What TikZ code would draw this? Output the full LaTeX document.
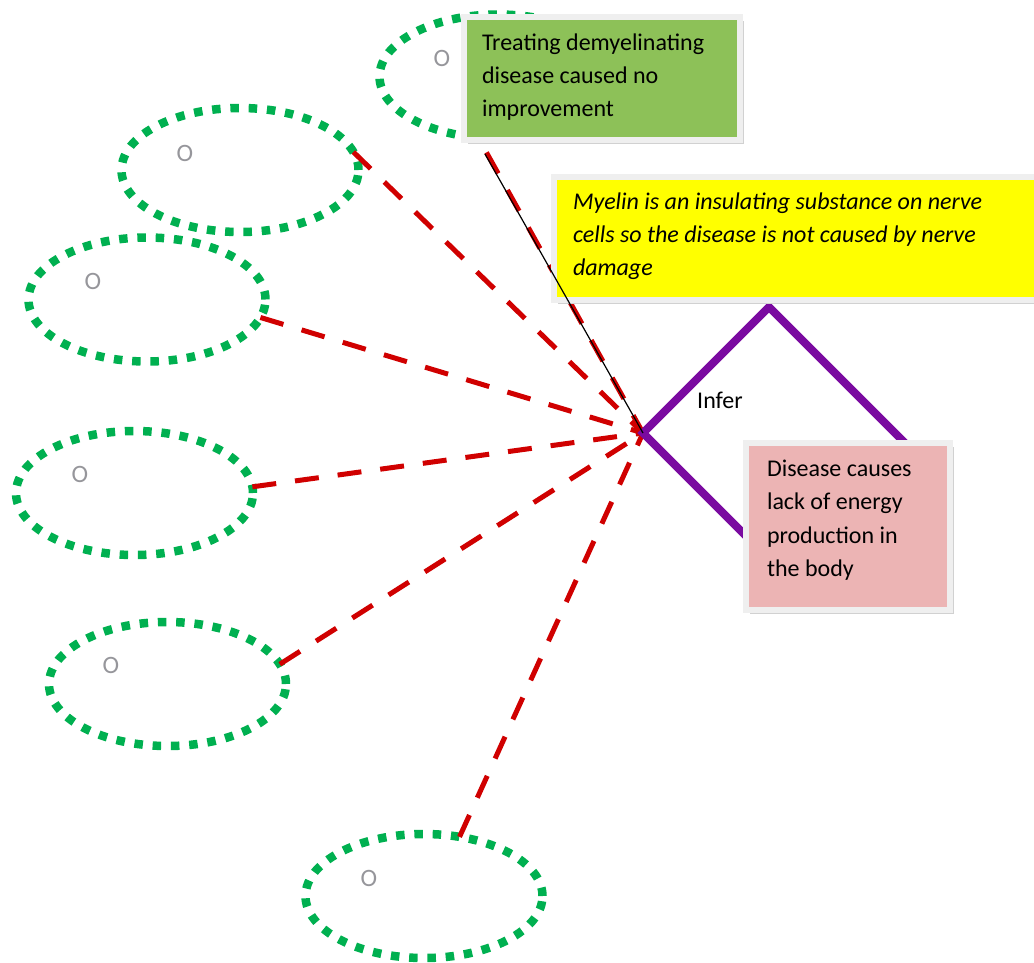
\documentclass[tikz,border=0pt]{standalone}
\usepackage{fontspec}
\setmainfont{Carlito}
\usetikzlibrary{shapes.geometric,shadows}
\definecolor{ellgreen}{RGB}{0,176,80}
\definecolor{linered}{RGB}{208,0,0}
\definecolor{infpurple}{RGB}{122,10,160}
\definecolor{boxgreen}{RGB}{141,193,88}
\definecolor{boxyellow}{RGB}{255,255,0}
\definecolor{boxpink}{RGB}{236,180,180}
\definecolor{boxrim}{RGB}{239,239,239}
\definecolor{ogray}{RGB}{150,150,155}
\begin{document}
\begin{tikzpicture}[x=1pt,y=-1pt,
  ell/.style={ellipse, draw=ellgreen, line width=8.5pt, dash pattern=on 8.5pt off 9.8pt,
    minimum width=237pt, minimum height=124pt, inner sep=0pt, outer sep=0pt},
  olabel/.style={text=ogray, font=\fontsize{25}{28}\selectfont, inner sep=0pt},
  redlink/.style={draw=linered, line width=5pt, dash pattern=on 24pt off 19pt},
  inferline/.style={draw=infpurple, line width=8pt, line join=miter},
  card/.style={draw=boxrim, line width=6pt, anchor=north west, outer sep=0pt,
    drop shadow={shadow xshift=4pt, shadow yshift=-4pt, fill=black!18, opacity=1}},
  cardtext/.style={inner sep=0pt}
]
\useasboundingbox (0,0) rectangle (1034,962);
\clip (0,0) rectangle (1034,962);

% ellipses
\node[ell] (e1) at (498,76.5) {};
\node[ell] (e2) at (240,170) {};
\node[ell] (e3) at (147,299.5) {};
\node[ell] (e4) at (134.5,493) {};
\node[ell] (e5) at (167.5,684) {};
\node[ell] (e6) at (424,896) {};

\node[olabel] (o1) at (442,58) {O};
\node[olabel] (o2) at (185,153) {O};
\node[olabel] (o3) at (93,281) {O};
\node[olabel] (o4) at (80,474) {O};
\node[olabel] (o5) at (111,665) {O};
\node[olabel] (o6) at (369,878) {O};

% inference shape corners
\coordinate (hub) at (643,433);
\coordinate (dT) at (769,307);
\coordinate (dR) at (909,447);
\coordinate (dB) at (783,573);
\coordinate (tb) at (485,154);

% red dashed links
\draw[redlink, shorten <=17pt] (e1.-108) -- (hub);
\draw[redlink] (e2.9) -- (hub);
\draw[redlink] (e3.-9) -- (hub);
\draw[redlink] (e4.3) -- (hub);
\draw[redlink] (e5.10) -- (hub);
\draw[redlink] (e6.59) -- (hub);

% purple inference shape
\draw[inferline] (hub) -- (dT) -- (dR) -- (dB) -- cycle;
\node[anchor=base west, inner sep=0pt, font=\fontsize{24}{28}\selectfont] (inferlbl) at (697,408) {Infer};

% boxes
\node[card, fill=boxgreen, inner xsep=18pt, inner ysep=9.9pt] (treat) at (464,17)
  {\parbox[t][103.2pt][t]{240pt}{\fontsize{24}{33}\selectfont\raggedright\strut Treating demyelinating\\disease caused no\\improvement}};
\node[card, fill=boxyellow, inner xsep=19pt, inner ysep=8.9pt] (myelin) at (554,177)
  {\parbox[t][105.2pt][t]{488pt}{\fontsize{24}{33}\selectfont\itshape\raggedright\strut Myelin is an insulating substance on nerve\\cells so the disease is not caused by nerve\\damage}};
\node[card, fill=boxpink, inner xsep=21pt, inner ysep=9.9pt] (energy) at (746,443)
  {\parbox[t][147.2pt][t]{162pt}{\fontsize{24}{33.5}\selectfont\raggedright\strut Disease causes\\lack of energy\\production in\\the body}};

% thin black connector
\draw[line width=1.2pt] (tb) -- (hub);
\end{tikzpicture}
\end{document}
